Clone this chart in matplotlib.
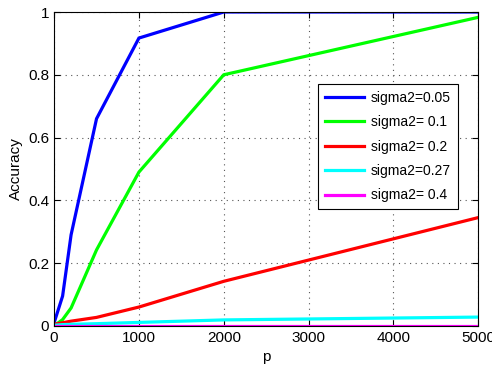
import matplotlib
matplotlib.use("Agg")
import matplotlib.pyplot as plt

plt.rcParams['font.family'] = ['Liberation Sans', 'DejaVu Sans']

p = [0, 100, 200, 500, 1000, 2000, 5000]
acc_005 = [0.01, 0.095, 0.29, 0.66, 0.917, 1.0, 1.0]
acc_01 = [0.0, 0.02, 0.057, 0.242, 0.49, 0.80, 0.983]
acc_02 = [0.005, 0.01, 0.015, 0.027, 0.06, 0.142, 0.345]
acc_027 = [0.002, 0.004, 0.005, 0.007, 0.011, 0.019, 0.028]
acc_04 = [0.0, 0.0, 0.0, 0.0, 0.0, 0.0, 0.0]

labels = ['sigma2=0.05', 'sigma2= 0.1', 'sigma2= 0.2', 'sigma2=0.27', 'sigma2= 0.4']
colors = ['#0000ff', '#00ff00', '#ff0000', '#00ffff', '#ff00ff']
series = [acc_005, acc_01, acc_02, acc_027, acc_04]

fig = plt.figure(figsize=(4.92, 3.75), dpi=100)
ax = fig.add_axes([0.110, 0.131, 0.862, 0.837])

for ys, c, lab in zip(series, colors, labels):
    ax.plot(p, ys, color=c, lw=2.3, label=lab, solid_joinstyle='miter')

ax.set_xlim(0, 5000)
ax.set_ylim(0, 1)
ax.set_xticks([0, 1000, 2000, 3000, 4000, 5000])
ax.set_yticks([0, 0.2, 0.4, 0.6, 0.8, 1])
ax.set_yticklabels(['0', '0.2', '0.4', '0.6', '0.8', '1'])
ax.tick_params(direction='in', top=True, right=True, labelsize=11, length=4)
ax.grid(True, linestyle=(0, (1, 4)), color='#555555', lw=0.8)
ax.set_xlabel('p', fontsize=11)
ax.set_ylabel('Accuracy', fontsize=11)

leg = ax.legend(loc='upper left', bbox_to_anchor=(0.623, 0.771), fontsize=10,
                fancybox=False, framealpha=1, edgecolor='black',
                handlelength=2.8, handletextpad=0.5, labelspacing=0.75,
                borderpad=0.5, borderaxespad=0)
leg.get_frame().set_linewidth(0.8)

fig.savefig('out.png', dpi=100)
